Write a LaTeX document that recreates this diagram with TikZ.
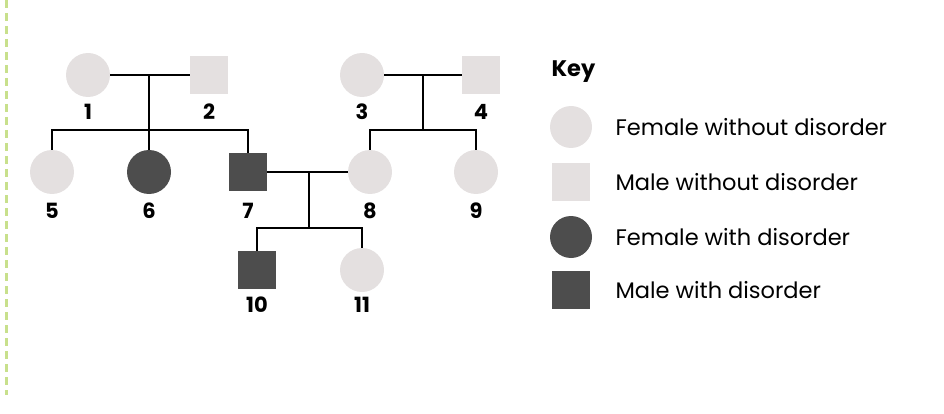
\documentclass[tikz,border=0pt]{standalone}
\usepackage{fontspec}
\setmainfont{Poppins}
\definecolor{lt}{HTML}{E4E0E0}
\definecolor{dk}{HTML}{4D4D4D}
\definecolor{gr}{HTML}{C8E08C}
\begin{document}
\begin{tikzpicture}[x=1pt,y=-1pt,
 fem/.style={circle,minimum size=44pt,inner sep=0pt},
 mal/.style={rectangle,minimum size=38pt,inner sep=0pt},
 lbl/.style={font=\bfseries\fontsize{21}{24}\selectfont},
 keyt/.style={anchor=west,font=\fontsize{22.5}{26}\selectfont},
 ln/.style={line width=2pt,black}]
\useasboundingbox (0,0) rectangle (944,414);
\draw[gr,line width=3pt,dash pattern=on 8pt off 5pt] (6,0) -- (6,395);
\node[fem,fill=lt] (n1) at (88,75) {};
\node[mal,fill=lt] (n2) at (209,75) {};
\node[fem,fill=lt] (n3) at (362,75) {};
\node[mal,fill=lt] (n4) at (481,75) {};
\node[fem,fill=lt] (n5) at (52,172) {};
\node[fem,fill=dk] (n6) at (149,172) {};
\node[mal,fill=dk] (n7) at (248,172) {};
\node[fem,fill=lt] (n8) at (370,172) {};
\node[fem,fill=lt] (n9) at (476,172) {};
\node[mal,fill=dk] (n10) at (257,270) {};
\node[fem,fill=lt] (n11) at (362,270) {};
\foreach \n/\t/\x/\y in {n1/1/88/112,n2/2/209/112,n3/3/362/112,n4/4/481/112,n5/5/52/211,n6/6/149/211,n7/7/248/211,n8/8/370/211,n9/9/476/211,n10/10/257/305,n11/11/362/305}
  \node[lbl] (l\n) at (\x,\y) {\t};
\coordinate (m12) at (149,75);
\coordinate (b12) at (149,130);
\draw[ln] (n1) -- (n2);
\draw[ln] (m12) -- (b12);
\draw[ln] (n5.north) |- (b12) -| (n7.north);
\draw[ln] (b12) -- (n6.north);
\coordinate (m34) at (423,75);
\coordinate (b34) at (423,130);
\draw[ln] (n3) -- (n4);
\draw[ln] (m34) -- (b34);
\draw[ln] (n8.north) |- (b34) -| (n9.north);
\coordinate (m78) at (309,172);
\coordinate (b78) at (309,228);
\draw[ln] (n7) -- (n8);
\draw[ln] (m78) -- (b78);
\draw[ln] (n10.north) |- (b78) -| (n11.north);
\node[anchor=west,font=\bfseries\fontsize{22.5}{26}\selectfont] (key) at (548,72) {Key};
\node[fem,fill=lt,minimum size=42pt] (k1) at (571,127) {};
\node[mal,fill=lt] (k2) at (571,182) {};
\node[fem,fill=dk,minimum size=42pt] (k3) at (571,237) {};
\node[mal,fill=dk] (k4) at (571,290) {};
\node[keyt] (t1) at (612,127) {Female without disorder};
\node[keyt] (t2) at (612,182) {Male without disorder};
\node[keyt] (t3) at (612,237) {Female with disorder};
\node[keyt] (t4) at (612,290) {Male with disorder};
\end{tikzpicture}
\end{document}
